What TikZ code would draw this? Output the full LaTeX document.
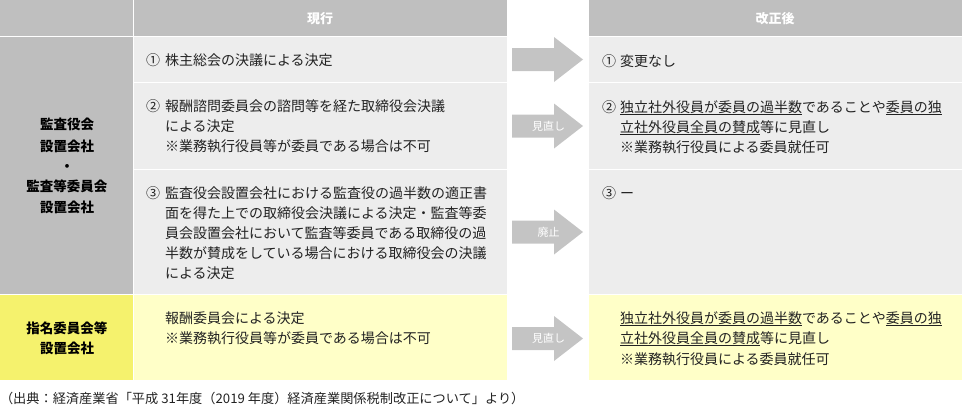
\documentclass[tikz,border=0pt]{standalone}
\usepackage{fontspec}
\setmainfont{Noto Sans CJK JP}
\definecolor{hdrgray}{HTML}{BFBFBF}
\definecolor{leftgray}{HTML}{BEBEBE}
\definecolor{cellgray}{HTML}{EDEDED}
\definecolor{arrowgray}{HTML}{C4C4C4}
\definecolor{ystrong}{HTML}{F5F26D}
\definecolor{ylight}{HTML}{FFFFC8}
\definecolor{txtcol}{HTML}{222222}
\tikzset{
  cellbase/.style={rectangle, draw=none, inner sep=0pt, outer sep=0pt, anchor=north west},
  txt/.style={inner sep=0pt, outer sep=0pt, anchor=base west, text=txtcol, font=\fontsize{14}{20}\selectfont},
  lefttxt/.style={inner sep=0pt, outer sep=0pt, anchor=base, text=black, font=\fontsize{13.5}{20}\selectfont\bfseries},
  hdrtxt/.style={inner sep=0pt, outer sep=0pt, anchor=base, text=white, font=\fontsize{13}{20}\selectfont\bfseries},
  arrlbl/.style={inner sep=0pt, outer sep=0pt, anchor=base, text=white, font=\fontsize{11}{14}\selectfont},
  caption/.style={inner sep=0pt, outer sep=0pt, anchor=base west, text=txtcol, font=\fontsize{13.2}{16}\selectfont},
  blockarr/.pic={\fill[arrowgray] (0,-11.5) -- (42,-11.5) -- (42,-22.5) -- (71,0) -- (42,22.5) -- (42,11.5) -- (0,11.5) -- cycle;}
}
\begin{document}
\begin{tikzpicture}[x=1pt,y=-1pt]
\useasboundingbox (0,0) rectangle (962,410);
% header
\node[cellbase, fill=hdrgray, minimum width=133pt, minimum height=35.5pt] (hL) at (0,0) {};
\node[cellbase, fill=hdrgray, minimum width=373pt, minimum height=35.5pt] (hM) at (134,0) {};
\node[cellbase, fill=hdrgray, minimum width=373pt, minimum height=35.5pt] (hR) at (589,0) {};
\node[hdrtxt] (hMt) at (320,23) {現行};
\node[hdrtxt] (hRt) at (775,23) {改正後};
% left column
\node[cellbase, fill=leftgray, minimum width=133pt, minimum height=257.5pt] (lA) at (0,36.5) {};
\node[cellbase, fill=ystrong, minimum width=133pt, minimum height=85pt] (lB) at (0,295) {};
% middle cells
\node[cellbase, fill=cellgray, minimum width=373pt, minimum height=45pt] (m1) at (134,36.5) {};
\node[cellbase, fill=cellgray, minimum width=373pt, minimum height=86pt] (m2) at (134,82.5) {};
\node[cellbase, fill=cellgray, minimum width=373pt, minimum height=124.5pt] (m3) at (134,169.5) {};
\node[cellbase, fill=ylight, minimum width=373pt, minimum height=85pt] (m4) at (134,295) {};
% right cells
\node[cellbase, fill=cellgray, minimum width=373pt, minimum height=45pt] (r1) at (589,36.5) {};
\node[cellbase, fill=cellgray, minimum width=373pt, minimum height=86pt] (r2) at (589,82.5) {};
\node[cellbase, fill=cellgray, minimum width=373pt, minimum height=124.5pt] (r3) at (589,169.5) {};
\node[cellbase, fill=ylight, minimum width=373pt, minimum height=85pt] (r4) at (589,295) {};
% left texts
\node[lefttxt] (lA1) at (67,129) {監査役会};
\node[lefttxt] (lA2) at (67,151) {設置会社};
\node[lefttxt] (lA3) at (67,171) {・};
\node[lefttxt] (lA4) at (67,191) {監査等委員会};
\node[lefttxt] (lA5) at (67,212) {設置会社};
\node[lefttxt] (lB1) at (67,333) {指名委員会等};
\node[lefttxt] (lB2) at (67,353) {設置会社};
% middle texts
\node[txt] (m1n) at (146,65) {①};
\node[txt] (m1a) at (165,65) {株主総会の決議による決定};
\node[txt] (m2n) at (146,111) {②};
\node[txt] (m2a) at (165,111) {報酬諮問委員会の諮問等を経た取締役会決議};
\node[txt] (m2b) at (165,131) {による決定};
\node[txt] (m2c) at (165,151) {※業務執行役員等が委員である場合は不可};
\node[txt] (m3n) at (146,198) {③};
\node[txt] (m3a) at (165,198) {監査役会設置会社における監査役の過半数の適正書};
\node[txt] (m3b) at (165,218) {面を得た上での取締役会決議による決定・監査等委};
\node[txt] (m3c) at (165,238) {員会設置会社において監査等委員である取締役の過};
\node[txt] (m3d) at (165,258) {半数が賛成をしている場合における取締役会の決議};
\node[txt] (m3e) at (165,278) {による決定};
\node[txt] (m4a) at (165,323) {報酬委員会による決定};
\node[txt] (m4b) at (165,343) {※業務執行役員等が委員である場合は不可};
% right texts
\node[txt] (r1n) at (602,66) {①};
\node[txt] (r1a) at (620,66) {変更なし};
\node[txt] (r2n) at (602,112) {②};
\node[txt] (r2a) at (620,112) {\underline{独立社外役員が委員の過半数}であることや\underline{委員の独}};
\node[txt] (r2b) at (620,132) {\underline{立社外役員全員の賛成}等に見直し};
\node[txt] (r2c) at (620,152) {※業務執行役員による委員就任可};
\node[txt] (r3n) at (602,198) {③};
\node[txt] (r3a) at (620,198) {ー};
\node[txt] (r4a) at (620,323) {\underline{独立社外役員が委員の過半数}であることや\underline{委員の独}};
\node[txt] (r4b) at (620,343) {\underline{立社外役員全員の賛成}等に見直し};
\node[txt] (r4c) at (620,364) {※業務執行役員による委員就任可};
% arrows
\pic at (512,59.5) {blockarr};
\pic at (512,126) {blockarr};
\pic at (512,232) {blockarr};
\pic at (512,338.5) {blockarr};
\node[arrlbl] (a2) at (548.5,130.2) {見直し};
\node[arrlbl] (a3) at (548.5,236.2) {廃止};
\node[arrlbl] (a4) at (548.5,342.7) {見直し};
% caption
\node[caption] (cap) at (0,403) {（出典：経済産業省「平成 31年度（2019 年度）経済産業関係税制改正について」より）};
\end{tikzpicture}
\end{document}
